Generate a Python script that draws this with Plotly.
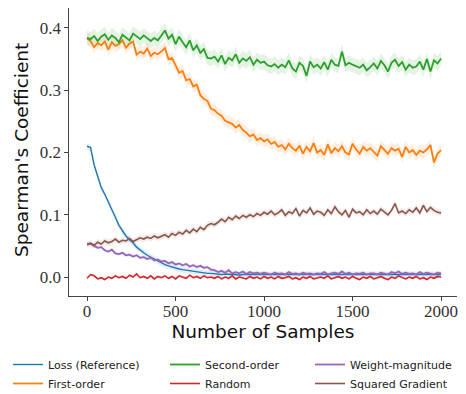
import plotly.graph_objects as go

samples = list(range(0, 2001, 20))

loss_reference = [
    0.210, 0.208, 0.180, 0.160, 0.144, 0.133, 0.121, 0.110, 0.096, 0.083,
    0.074, 0.066, 0.060, 0.055, 0.048, 0.043, 0.039, 0.035, 0.032, 0.028,
    0.025, 0.023, 0.020, 0.018, 0.016, 0.015, 0.013, 0.012, 0.011, 0.010,
    0.009, 0.008, 0.0075, 0.007, 0.006, 0.006,
    0.005, 0.005, 0.004, 0.005, 0.004, 0.004, 0.004, 0.003, 0.004, 0.004, 0.003, 0.004, 0.003, 0.003, 0.004,
    0.003, 0.003, 0.004, 0.003, 0.003, 0.003, 0.004, 0.003, 0.003, 0.003, 0.004, 0.003, 0.003, 0.003, 0.004,
    0.003, 0.004, 0.003, 0.003, 0.003, 0.004, 0.003, 0.004, 0.003, 0.003, 0.004, 0.003, 0.003, 0.004, 0.003,
    0.003, 0.004, 0.003, 0.003, 0.004, 0.003, 0.004, 0.003, 0.003, 0.004, 0.003, 0.004, 0.003, 0.003, 0.004,
    0.003, 0.004, 0.003, 0.004, 0.004,
]

first_order = [
    0.383, 0.379, 0.369, 0.376, 0.372, 0.378, 0.365, 0.377, 0.371, 0.374, 0.380,
    0.368, 0.375, 0.378, 0.357, 0.362, 0.359, 0.367, 0.355, 0.360, 0.358,
    0.362, 0.368, 0.350, 0.352, 0.340, 0.328, 0.331, 0.316, 0.318, 0.306,
    0.309, 0.292, 0.286, 0.283, 0.270,
    0.268, 0.262, 0.259, 0.251, 0.248, 0.246, 0.240, 0.244, 0.236, 0.232,
    0.226, 0.229, 0.220, 0.223, 0.218,
    0.221, 0.214, 0.217, 0.209, 0.212, 0.205, 0.214, 0.207, 0.203, 0.211,
    0.198, 0.209, 0.202, 0.215, 0.200,
    0.204, 0.196, 0.213, 0.199, 0.207, 0.202, 0.210, 0.200, 0.197, 0.214,
    0.205, 0.198, 0.209, 0.203, 0.207,
    0.201, 0.195, 0.210, 0.204, 0.198, 0.207, 0.203, 0.206, 0.193, 0.209,
    0.200, 0.204, 0.196, 0.203, 0.200, 0.205, 0.212, 0.184, 0.198, 0.204,
]

second_order = [
    0.384, 0.382, 0.387, 0.379, 0.386, 0.390, 0.381, 0.388, 0.384, 0.377, 0.389,
    0.385, 0.380, 0.391, 0.386, 0.382, 0.388, 0.383, 0.379, 0.384, 0.380,
    0.388, 0.396, 0.383, 0.389, 0.374, 0.386, 0.377, 0.369, 0.380, 0.364,
    0.372, 0.360, 0.366, 0.352, 0.351,
    0.354, 0.346, 0.356, 0.342, 0.352, 0.348, 0.358, 0.344, 0.351, 0.347,
    0.353, 0.341, 0.349, 0.344, 0.346,
    0.340, 0.338, 0.342, 0.336, 0.341, 0.337, 0.348, 0.335, 0.330, 0.344,
    0.339, 0.323, 0.346, 0.337, 0.341,
    0.335, 0.345, 0.333, 0.349, 0.341, 0.339, 0.362, 0.340, 0.344, 0.341,
    0.339, 0.336, 0.341, 0.332, 0.337,
    0.343, 0.335, 0.347, 0.340, 0.330, 0.344, 0.349, 0.339, 0.345, 0.333,
    0.341, 0.336, 0.338, 0.346, 0.333, 0.350, 0.330, 0.348, 0.343, 0.351,
]

random_baseline = [
    -0.002, 0.004, 0.002, -0.003, -0.001, -0.004, 0.000, -0.002, 0.002, -0.001, 0.001,
    -0.002, 0.003, 0.000, 0.005, -0.001, 0.001, -0.002, 0.002, -0.003, 0.001,
    -0.001, 0.002, -0.002, 0.001, -0.003, 0.002, 0.000, -0.002, 0.003, -0.001,
    0.001, -0.002, 0.002, -0.001, 0.000,
    -0.002, 0.001, -0.003, 0.000, -0.002, 0.002, -0.003, 0.000, -0.001, -0.003,
    0.001, -0.002, 0.000, -0.003, 0.001,
    -0.002, 0.000, -0.003, 0.001, -0.002, -0.001, 0.001, -0.003, -0.001, -0.004,
    0.000, -0.002, 0.001, -0.003, -0.001,
    0.000, -0.002, 0.002, -0.003, -0.001, 0.001, -0.002, 0.000, -0.003, 0.001,
    -0.002, -0.004, 0.000, -0.002, 0.001,
    -0.003, -0.001, 0.001, -0.002, -0.004, 0.000, -0.002, 0.002, -0.001, -0.003,
    0.000, -0.002, 0.001, -0.003, -0.001, -0.004, 0.000, -0.002, 0.001, 0.000,
]

weight_magnitude = [
    0.053, 0.054, 0.050, 0.047, 0.048, 0.043, 0.041, 0.044, 0.038, 0.037, 0.039,
    0.035, 0.036, 0.033, 0.035, 0.031, 0.032, 0.029, 0.031, 0.027, 0.028,
    0.025, 0.026, 0.022, 0.024, 0.020, 0.022, 0.019, 0.021, 0.017, 0.019,
    0.016, 0.018, 0.015, 0.016, 0.012,
    0.011, 0.008, 0.010, 0.007, 0.011, 0.006, 0.008, 0.006, 0.009, 0.005,
    0.008, 0.006, 0.007, 0.005, 0.007,
    0.006, 0.004, 0.007, 0.005, 0.006, 0.004, 0.008, 0.005, 0.006, 0.004,
    0.007, 0.005, 0.006, 0.004, 0.006,
    0.005, 0.008, 0.004, 0.006, 0.007, 0.005, 0.009, 0.005, 0.007, 0.004,
    0.006, 0.005, 0.007, 0.004, 0.006,
    0.006, 0.004, 0.007, 0.005, 0.004, 0.008, 0.006, 0.009, 0.005, 0.007,
    0.005, 0.006, 0.004, 0.008, 0.005, 0.007, 0.006, 0.004, 0.007, 0.006,
]

squared_gradient = [
    0.052, 0.054, 0.051, 0.056, 0.053, 0.058, 0.055, 0.057, 0.061, 0.056, 0.059,
    0.058, 0.062, 0.057, 0.060, 0.063, 0.061, 0.064, 0.062, 0.066, 0.063,
    0.065, 0.068, 0.064, 0.070, 0.067, 0.072, 0.069, 0.075, 0.071, 0.077,
    0.073, 0.080, 0.076, 0.083, 0.086,
    0.084, 0.088, 0.093, 0.089, 0.096, 0.092, 0.098, 0.094, 0.099, 0.096,
    0.100, 0.097, 0.102, 0.099, 0.104,
    0.101, 0.106, 0.100, 0.103, 0.108, 0.099, 0.105, 0.102, 0.110, 0.098,
    0.107, 0.103, 0.111, 0.101, 0.106,
    0.104, 0.099, 0.108, 0.102, 0.113, 0.105, 0.100, 0.107, 0.096, 0.109,
    0.103, 0.105, 0.100, 0.108, 0.102,
    0.106, 0.101, 0.109, 0.104, 0.100, 0.107, 0.118, 0.103, 0.106, 0.102,
    0.108, 0.104, 0.111, 0.103, 0.115, 0.105, 0.112, 0.107, 0.104, 0.103,
]

series_names = ["Loss (Reference)", "First-order", "Second-order",
                "Random", "Weight-magnitude", "Squared Gradient"]
series_values = [loss_reference, first_order, second_order,
                 random_baseline, weight_magnitude, squared_gradient]
band_halfwidth = [0.005, 0.010, 0.012, 0.002, 0.003, 0.005]

x_tick_values = [0, 500, 1000, 1500, 2000]
y_tick_values = [0.0, 0.1, 0.2, 0.3, 0.4]
y_tick_labels = ["0.0", "0.1", "0.2", "0.3", "0.4"]

colors = ["#1f77b4", "#ff7f0e", "#2ca02c", "#d62728", "#9467bd", "#8c564b"]
band_colors = ["rgba(31,119,180,0.12)", "rgba(255,127,14,0.12)", "rgba(44,160,44,0.12)",
               "rgba(214,39,40,0.12)", "rgba(148,103,189,0.12)", "rgba(140,86,75,0.12)"]
line_widths = [1.4, 1.8, 1.8, 1.6, 1.8, 1.6]
legend_ids = ["legend", "legend", "legend2", "legend2", "legend3", "legend3"]
legend_ranks = [1, 2, 1, 2, 1, 2]

fig = go.Figure()
for name, vals, hw, col, bcol, lw, lid, rk in zip(series_names, series_values, band_halfwidth,
                                                  colors, band_colors, line_widths,
                                                  legend_ids, legend_ranks):
    lower = [v - hw for v in vals]
    upper = [v + hw for v in vals]
    fig.add_trace(go.Scatter(x=samples, y=lower, mode="lines", line=dict(width=0),
                             showlegend=False, hoverinfo="skip"))
    fig.add_trace(go.Scatter(x=samples, y=upper, mode="lines", line=dict(width=0),
                             fill="tonexty", fillcolor=bcol,
                             showlegend=False, hoverinfo="skip"))
    fig.add_trace(go.Scatter(x=samples, y=vals, mode="lines", name=name,
                             line=dict(color=col, width=lw),
                             legend=lid, legendrank=rk))

W, H = 458, 386  # page body has an 8px margin in the browser
legend_common = dict(orientation="v", xref="container", yref="container",
                     yanchor="top", xanchor="left", traceorder="normal",
                     font=dict(family="DejaVu Sans", size=11, color="#222"),
                     bgcolor="rgba(0,0,0,0)", tracegroupgap=0, itemwidth=30)

legend_top = 1 - 342 / H
fig.update_layout(
    width=W, height=H,
    margin=dict(l=61, r=9, t=0, b=98, autoexpand=False),
    paper_bgcolor="white", plot_bgcolor="white",
    legend=dict(x=0.0, y=legend_top, **legend_common),
    legend2=dict(x=157 / W, y=legend_top, **legend_common),
    legend3=dict(x=302 / W, y=legend_top, **legend_common),
    annotations=[dict(text="Spearman's Coefficient", textangle=-90,
                      xref="paper", yref="paper", x=-0.121, y=0.507,
                      xanchor="center", yanchor="middle", showarrow=False,
                      font=dict(family="DejaVu Sans", size=18.5, color="#111"))],
)

fig.update_xaxes(
    range=[-102, 2090], tickvals=x_tick_values,
    showgrid=False, zeroline=False, automargin=True,
    showline=True, linecolor="#444", linewidth=1.3,
    ticks="outside", ticklen=3.5, tickcolor="#444", tickwidth=1,
    ticklabelstandoff=-4,
    tickfont=dict(family="Liberation Serif", size=17, color="#333"),
    title=dict(text="Number of Samples", standoff=0,
               font=dict(family="DejaVu Sans", size=18.5, color="#111")),
)
fig.update_yaxes(
    range=[-0.0304, 0.432], tickvals=y_tick_values, ticktext=y_tick_labels,
    showgrid=False, zeroline=False, automargin=True,
    showline=True, linecolor="#444", linewidth=1.3,
    ticks="outside", ticklen=3.5, tickcolor="#444", tickwidth=1,
    tickfont=dict(family="Liberation Serif", size=17, color="#333"),
)

fig.write_html("out.html")
